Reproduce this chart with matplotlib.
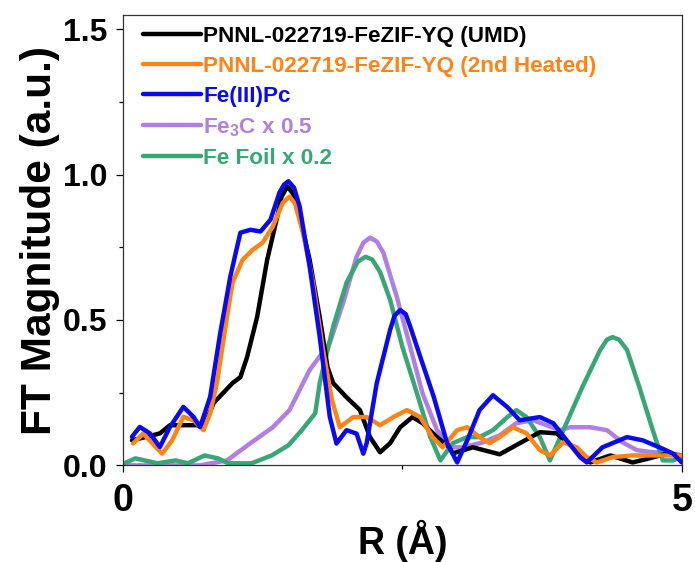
import matplotlib
matplotlib.use("Agg")
from matplotlib import pyplot as plt
from matplotlib.ticker import MultipleLocator

plt.rcParams['font.family'] = ['Liberation Sans', 'DejaVu Sans']
plt.rcParams['font.weight'] = 'bold'
plt.rcParams['mathtext.fontset'] = 'custom'
plt.rcParams['mathtext.rm'] = 'Liberation Sans:bold'
plt.rcParams['mathtext.bf'] = 'Liberation Sans:bold'

# FT-EXAFS magnitudes, R in Angstrom
r_umd = [0.08, 0.21, 0.33, 0.42, 0.66, 0.72, 0.81, 0.98, 1.05, 1.11, 1.20, 1.29, 1.38, 1.42,
         1.47, 1.52, 1.58, 1.67, 1.76, 1.83, 1.88, 2.00, 2.12, 2.21, 2.30, 2.39, 2.48, 2.59,
         2.68, 2.81, 2.92, 2.95, 3.13, 3.37, 3.55, 3.73, 3.88, 4.06, 4.18, 4.36, 4.56, 4.71,
         4.87, 5.00]
ft_umd = [0.086, 0.098, 0.110, 0.138, 0.138, 0.128, 0.214, 0.283, 0.303, 0.372, 0.510, 0.707,
          0.855, 0.925, 0.959, 0.935, 0.855, 0.707, 0.510, 0.338, 0.283, 0.234, 0.190, 0.097,
          0.045, 0.076, 0.131, 0.166, 0.145, 0.097, 0.062, 0.041, 0.062, 0.038, 0.076, 0.114,
          0.110, 0.052, 0.010, 0.034, 0.010, 0.024, 0.041, 0.034]

r_heated = [0.09, 0.18, 0.35, 0.44, 0.54, 0.63, 0.72, 0.78, 0.84, 0.93, 0.98, 1.07, 1.16, 1.25,
            1.34, 1.43, 1.49, 1.54, 1.61, 1.70, 1.79, 1.87, 1.94, 2.06, 2.18, 2.30, 2.42, 2.54,
            2.66, 2.77, 2.86, 2.99, 3.08, 3.19, 3.28, 3.37, 3.49, 3.61, 3.73, 3.82, 3.94, 4.06,
            4.15, 4.24, 4.38, 4.56, 4.74, 5.00]
ft_heated = [0.075, 0.109, 0.040, 0.086, 0.167, 0.155, 0.121, 0.179, 0.283, 0.510, 0.628, 0.707,
             0.741, 0.766, 0.821, 0.903, 0.924, 0.900, 0.800, 0.628, 0.397, 0.224, 0.131, 0.166,
             0.166, 0.138, 0.166, 0.190, 0.166, 0.097, 0.062, 0.121, 0.131, 0.097, 0.076, 0.097,
             0.131, 0.110, 0.052, 0.034, 0.079, 0.062, 0.028, 0.010, 0.028, 0.034, 0.034, 0.034]

r_fepc = [0.08, 0.15, 0.24, 0.33, 0.42, 0.54, 0.63, 0.69, 0.78, 0.87, 0.96, 1.05, 1.14, 1.23,
          1.32, 1.40, 1.44, 1.48, 1.53, 1.58, 1.67, 1.76, 1.85, 1.91, 2.00, 2.09, 2.15, 2.18,
          2.27, 2.39, 2.43, 2.48, 2.53, 2.57, 2.66, 2.78, 2.90, 2.99, 3.08, 3.19, 3.31, 3.44,
          3.55, 3.73, 3.85, 3.97, 4.09, 4.15, 4.29, 4.51, 4.65, 4.80, 4.92, 5.00]
ft_fepc = [0.098, 0.132, 0.110, 0.063, 0.132, 0.201, 0.167, 0.132, 0.236, 0.455, 0.649, 0.800,
           0.810, 0.804, 0.845, 0.938, 0.965, 0.977, 0.955, 0.891, 0.684, 0.442, 0.167, 0.075,
           0.121, 0.109, 0.040, 0.076, 0.282, 0.466, 0.515, 0.534, 0.520, 0.477, 0.373, 0.236,
           0.076, 0.010, 0.086, 0.190, 0.241, 0.200, 0.155, 0.166, 0.145, 0.086, 0.028, 0.010,
           0.062, 0.097, 0.086, 0.062, 0.041, 0.010]

r_fe3c = [0.02, 0.69, 0.93, 1.14, 1.34, 1.49, 1.67, 1.85, 1.97, 2.09, 2.15, 2.21, 2.27, 2.33,
          2.45, 2.57, 2.68, 2.81, 2.93, 3.04, 3.22, 3.37, 3.52, 3.67, 3.79, 3.91, 4.00, 4.18,
          4.33, 4.47, 4.60, 4.74, 4.89, 5.00]
ft_fe3c = [0.000, 0.000, 0.017, 0.076, 0.131, 0.190, 0.328, 0.421, 0.559, 0.717, 0.765, 0.783,
           0.770, 0.731, 0.579, 0.407, 0.248, 0.121, 0.062, 0.062, 0.079, 0.103, 0.145, 0.155,
           0.138, 0.121, 0.131, 0.131, 0.121, 0.079, 0.052, 0.045, 0.041, 0.028]

r_foil = [0.00, 0.11, 0.31, 0.47, 0.58, 0.73, 0.85, 0.94, 1.15, 1.33, 1.48, 1.60, 1.72, 1.76,
          1.88, 2.00, 2.10, 2.17, 2.23, 2.30, 2.39, 2.50, 2.63, 2.75, 2.84, 2.95, 3.08, 3.19,
          3.31, 3.44, 3.52, 3.61, 3.73, 3.82, 3.94, 4.11, 4.27, 4.33, 4.38, 4.44, 4.51, 4.62,
          4.74, 4.83, 4.92, 5.00]
ft_foil = [0.005, 0.024, 0.007, 0.017, 0.007, 0.034, 0.024, 0.007, 0.007, 0.034, 0.069, 0.121,
           0.179, 0.283, 0.476, 0.628, 0.700, 0.717, 0.708, 0.665, 0.569, 0.407, 0.248, 0.097,
           0.017, 0.076, 0.097, 0.097, 0.121, 0.166, 0.190, 0.166, 0.097, 0.017, 0.121, 0.269,
           0.397, 0.432, 0.441, 0.432, 0.397, 0.269, 0.121, 0.017, 0.017, 0.028]

labels = ["PNNL-022719-FeZIF-YQ (UMD)", "PNNL-022719-FeZIF-YQ (2nd Heated)", "Fe(III)Pc",
          "Fe$_\\mathbf{3}$C x 0.5", "Fe Foil x 0.2"]
colors = ["#000000", "#FF8418", "#0A0AEE", "#B07FE0", "#38A676"]


def main():
    fig = plt.figure(figsize=(6.95, 5.62), dpi=100)
    ax = fig.add_axes([0.177, 0.172, 0.804, 0.801])

    series = [(r_umd, ft_umd), (r_heated, ft_heated), (r_fepc, ft_fepc),
              (r_fe3c, ft_fe3c), (r_foil, ft_foil)]
    zorders = [3, 4, 5, 1, 2]
    for (x, y), lab, c, z in zip(series, labels, colors, zorders):
        ax.plot(x, y, color=c, lw=3.2, label=lab, zorder=z,
                solid_joinstyle='round', solid_capstyle='round')

    ax.set_xlim(0, 5)
    ax.set_ylim(0, 1.548)
    ax.set_xticks([0, 5])
    ax.set_xticklabels(["0", "5"])
    ax.xaxis.set_minor_locator(MultipleLocator(2.5))
    ax.set_yticks([0, 0.5, 1.0, 1.5])
    ax.set_yticklabels(["0.0", "0.5", "1.0", "1.5"])
    ax.yaxis.set_minor_locator(MultipleLocator(0.25))
    ax.tick_params(which='major', direction='out', length=5, width=0.9, pad=6)
    ax.tick_params(axis='y', which='major', labelsize=23)
    ax.tick_params(axis='x', which='major', labelsize=27, pad=8)
    ax.tick_params(which='minor', direction='out', length=3, width=0.9)
    for s in ax.spines.values():
        s.set_linewidth(0.9)
        s.set_color('#333333')

    ax.set_xlabel("R (Å)", fontsize=27, fontweight='bold', labelpad=0)
    ax.set_ylabel("FT Magnitude (a.u.)", fontsize=30.5, fontweight='bold', labelpad=2)

    leg = ax.legend(loc='upper left', bbox_to_anchor=(0.036, 0.976), frameon=False,
                    fontsize=16.2, handlelength=2.55, handletextpad=0.12,
                    labelspacing=0.40, borderaxespad=0, borderpad=0)
    for txt, c in zip(leg.get_texts(), colors):
        txt.set_color(c)
        txt.set_fontweight('bold')

    fig.savefig("out.png", dpi=100)


if __name__ == '__main__':
    main()
